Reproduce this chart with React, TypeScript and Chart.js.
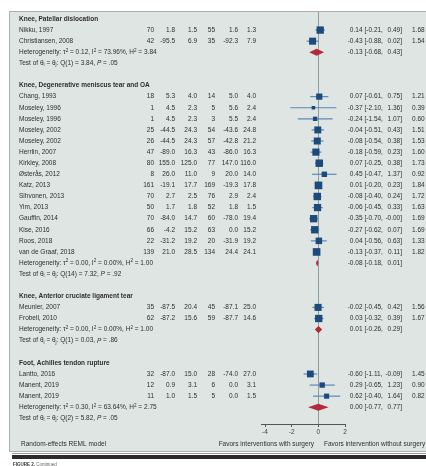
import React, { useEffect, useRef } from "react";
import { Chart, registerables } from "chart.js";

Chart.register(...registerables);

// ---------------- DATA ----------------
const groupTitles = [
  "Knee, Patellar dislocation",
  "Knee, Degenerative meniscus tear and OA",
  "Knee, Anterior cruciate ligament tear",
  "Foot, Achilles tendon rupture",
];

const studyGroup = [0, 0, 1, 1, 1, 1, 1, 1, 1, 1, 1, 1, 1, 1, 1, 1, 1, 2, 2, 3, 3, 3];

const studyNames = [
  "Nikku, 1997",
  "Christiansen, 2008",
  "Chang, 1993",
  "Moseley, 1996",
  "Moseley, 1996",
  "Moseley, 2002",
  "Moseley, 2002",
  "Herrlin, 2007",
  "Kirkley, 2008",
  "Østerås, 2012",
  "Katz, 2013",
  "Sihvonen, 2013",
  "Yim, 2013",
  "Gauffin, 2014",
  "Kise, 2016",
  "Roos, 2018",
  "van de Graaf, 2018",
  "Meunier, 2007",
  "Frobell, 2010",
  "Lantto, 2016",
  "Manent, 2019",
  "Manent, 2019",
];

const nSurgery = [70, 42, 18, 1, 1, 25, 26, 47, 80, 8, 161, 70, 50, 70, 66, 22, 139, 35, 62, 32, 12, 11];
const meanSurgery = [1.8, -95.5, 5.3, 4.5, 4.5, -44.5, -44.5, -89.0, 155.0, 26.0, -19.1, 2.7, 1.7, -84.0, -4.2, -31.2, 21.0, -87.5, -87.2, -87.0, 0.9, 1.0];
const sdSurgery = [1.5, 6.9, 4.0, 2.3, 2.3, 24.3, 24.3, 16.3, 125.0, 11.0, 17.7, 2.5, 1.8, 14.7, 15.2, 19.2, 28.5, 20.4, 15.6, 15.0, 3.1, 1.5];
const nControl = [55, 35, 14, 5, 3, 54, 57, 43, 77, 9, 169, 76, 52, 60, 63, 20, 134, 45, 59, 28, 6, 5];
const meanControl = [1.6, -92.3, 5.0, 5.6, 5.5, -43.6, -42.8, -86.0, 147.0, 20.0, -19.3, 2.9, 1.8, -78.0, 0.0, -31.9, 24.4, -87.1, -87.7, -74.0, 0.0, 0.0];
const sdControl = [1.3, 7.9, 4.0, 2.4, 2.4, 24.8, 21.2, 16.3, 116.0, 14.0, 17.8, 2.4, 1.5, 19.4, 15.2, 19.2, 24.1, 25.0, 14.6, 27.0, 3.1, 1.5];

const effect = [0.14, -0.43, 0.07, -0.37, -0.24, -0.04, -0.08, -0.18, 0.07, 0.45, 0.01, -0.08, -0.06, -0.35, -0.27, 0.04, -0.13, -0.02, 0.03, -0.6, 0.29, 0.62];
const ciLow = [-0.21, -0.88, -0.61, -2.1, -1.54, -0.51, -0.54, -0.59, -0.25, -0.47, -0.2, -0.4, -0.45, -0.7, -0.62, -0.56, -0.37, -0.45, -0.32, -1.11, -0.65, -0.4];
const ciHigh = [0.49, 0.02, 0.75, 1.36, 1.07, 0.43, 0.38, 0.23, 0.38, 1.37, 0.23, 0.24, 0.33, -0.004, 0.07, 0.63, 0.11, 0.42, 0.39, -0.09, 1.23, 1.64];
const weight = [1.68, 1.54, 1.21, 0.39, 0.6, 1.51, 1.53, 1.6, 1.73, 0.92, 1.84, 1.72, 1.63, 1.69, 1.69, 1.33, 1.82, 1.56, 1.67, 1.45, 0.9, 0.82];

const pooledEst = [-0.13, -0.08, 0.01, 0.0];
const pooledLow = [-0.68, -0.18, -0.26, -0.77];
const pooledHigh = [0.43, 0.01, 0.29, 0.77];

const hetTau2 = ["0.12", "0.00", "0.00", "0.30"];
const hetI2 = ["73.96", "0.00", "0.00", "63.64"];
const hetH2 = ["3.84", "1.00", "1.00", "2.75"];
const qDf = [1, 14, 1, 2];
const qStat = ["3.84", "7.32", "0.03", "5.82"];
const pValue = [".05", ".92", ".86", ".05"];

const xTicks = [-4, -2, 0, 2];
const footerLeft = "Random-effects REML model";
const favorsLeft = "Favors interventions with surgery";
const favorsRight = "Favors intervention without surgery";

// ---------------- ROW LAYOUT ----------------
const headerRow: number[] = [];
const hetRow: number[] = [];
const testRow: number[] = [];
const studyRow: number[] = [];
let rr = 0;
groupTitles.forEach((_, g) => {
  headerRow[g] = rr++;
  studyGroup.forEach((sg, i) => {
    if (sg === g) studyRow[i] = rr++;
  });
  hetRow[g] = rr++;
  testRow[g] = rr++;
  rr++;
});
const lastRow = testRow[testRow.length - 1];

// ---------------- STYLE ----------------
const FAM = '"Liberation Sans", Arial, Helvetica, sans-serif';
const FS = 6.5;
const TXT = "#2e2e2e";
const SQUARE = "#1c4a7c";
const CI = "#5a88b8";
const DIAMOND = "#b3283a";
const PANEL = "#dfe5e2";

function fnt(size: number, bold = false, italic = false) {
  return `${italic ? "italic " : ""}${bold ? "bold " : ""}${size}px ${FAM}`;
}

type Run = { t: string; sub?: boolean; sup?: boolean; it?: boolean };
function drawRuns(ctx: CanvasRenderingContext2D, x: number, y: number, runs: Run[]) {
  let cx = x;
  ctx.textAlign = "left";
  for (const r of runs) {
    const size = r.sub || r.sup ? 4.6 : FS;
    ctx.font = fnt(size, false, r.it);
    const dy = r.sub ? 1.8 : r.sup ? -2.0 : 0;
    ctx.fillText(r.t, cx, y + dy);
    cx += ctx.measureText(r.t).width;
  }
}

function drawText(ctx: CanvasRenderingContext2D, t: string, x: number, y: number, align: CanvasTextAlign, bold = false) {
  ctx.font = fnt(FS, bold);
  ctx.textAlign = align;
  ctx.fillText(t, x, y);
}

const colRight = [154, 175, 197, 215, 238, 256];
const EST_R = 362.5;
const LO_L = 364.5;
const HI_R = 402;
const W_L = 412;

function ciText(ctx: CanvasRenderingContext2D, y: number, est: number, lo: number, hi: number) {
  drawText(ctx, est.toFixed(2), EST_R, y, "right");
  drawText(ctx, "[" + lo.toFixed(2) + ",", LO_L, y, "left");
  drawText(ctx, hi.toFixed(2) + "]", HI_R, y, "right");
}

const panelPlugin = {
  id: "panel",
  beforeDraw(chart: any) {
    const ctx: CanvasRenderingContext2D = chart.ctx;
    ctx.save();
    ctx.fillStyle = "#ffffff";
    ctx.fillRect(0, 0, chart.width, chart.height);
    ctx.fillStyle = PANEL;
    ctx.fillRect(9, 11, chart.width - 9, 441);
    ctx.strokeStyle = "#a9b0ad";
    ctx.lineWidth = 1;
    ctx.beginPath();
    ctx.moveTo(chart.width, 11.5);
    ctx.lineTo(9.5, 11.5);
    ctx.lineTo(9.5, 451.5);
    ctx.lineTo(chart.width, 451.5);
    ctx.stroke();
    // bottom rule + caption
    ctx.fillStyle = "#2b2b2b";
    ctx.fillRect(12, 455, chart.width - 12, 4);
    ctx.fillStyle = "#9a9a9a";
    ctx.fillRect(12, 453, chart.width - 12, 1);
    ctx.restore();
  },
  beforeDatasetsDraw(chart: any) {
    const ctx: CanvasRenderingContext2D = chart.ctx;
    const x0 = Math.round(chart.scales.x.getPixelForValue(0)) + 0.5;
    ctx.save();
    ctx.strokeStyle = "#8d9c9e";
    ctx.lineWidth = 1;
    ctx.beginPath();
    ctx.moveTo(x0, 12);
    ctx.lineTo(x0, chart.chartArea.bottom);
    ctx.stroke();
    ctx.restore();
  },
  afterDatasetsDraw(chart: any) {
    const ctx: CanvasRenderingContext2D = chart.ctx;
    const xs = chart.scales.x;
    const ys = chart.scales.y;
    ctx.save();
    ctx.fillStyle = DIAMOND;
    pooledEst.forEach((e, g) => {
      const y = ys.getPixelForValue(hetRow[g]);
      const h = 3.6;
      ctx.beginPath();
      ctx.moveTo(xs.getPixelForValue(pooledLow[g]), y);
      ctx.lineTo(xs.getPixelForValue(e), y - h);
      ctx.lineTo(xs.getPixelForValue(pooledHigh[g]), y);
      ctx.lineTo(xs.getPixelForValue(e), y + h);
      ctx.closePath();
      ctx.fill();
    });
    ctx.restore();
  },
  afterDraw(chart: any) {
    const ctx: CanvasRenderingContext2D = chart.ctx;
    const ys = chart.scales.y;
    ctx.save();
    ctx.fillStyle = TXT;
    ctx.textBaseline = "middle";
    groupTitles.forEach((title, g) => {
      drawText(ctx, title, 19, ys.getPixelForValue(headerRow[g]), "left", true);
      const yh = ys.getPixelForValue(hetRow[g]);
      drawRuns(ctx, 19, yh, [
        { t: "Heterogeneity: τ" },
        { t: "2", sup: true },
        { t: ` = ${hetTau2[g]}, I` },
        { t: "2", sup: true },
        { t: ` = ${hetI2[g]}%, H` },
        { t: "2", sup: true },
        { t: ` = ${hetH2[g]}` },
      ]);
      ciText(ctx, yh, pooledEst[g], pooledLow[g], pooledHigh[g]);
      const yt = ys.getPixelForValue(testRow[g]);
      drawRuns(ctx, 19, yt, [
        { t: "Test of θ" },
        { t: "i", sub: true },
        { t: " = θ" },
        { t: "j", sub: true },
        { t: `: Q(${qDf[g]}) = ${qStat[g]}, ` },
        { t: "P", it: true },
        { t: ` = ${pValue[g]}` },
      ]);
    });
    studyNames.forEach((name, i) => {
      const y = ys.getPixelForValue(studyRow[i]);
      drawText(ctx, name, 19, y, "left");
      const cols = [
        String(nSurgery[i]),
        meanSurgery[i].toFixed(1),
        sdSurgery[i].toFixed(1),
        String(nControl[i]),
        meanControl[i].toFixed(1),
        sdControl[i].toFixed(1),
      ];
      cols.forEach((c, k) => drawText(ctx, c, colRight[k], y, "right"));
      ciText(ctx, y, effect[i], ciLow[i], ciHigh[i]);
      drawText(ctx, weight[i].toFixed(2), W_L, y, "left");
    });
    drawText(ctx, footerLeft, 21, 444, "left");
    drawText(ctx, favorsLeft, 314, 444, "right");
    drawText(ctx, favorsRight, 324, 444, "left");
    // caption
    ctx.fillStyle = "#333";
    ctx.textAlign = "left";
    ctx.font = fnt(4.5, true);
    ctx.fillText("FIGURE 2.", 13, 464.5);
    const w = ctx.measureText("FIGURE 2. ").width;
    ctx.font = fnt(4.5);
    ctx.fillStyle = "#666";
    ctx.fillText("Continued", 13 + w, 464.5);
    ctx.restore();
  },
};

export default function App() {
  const ref = useRef<HTMLCanvasElement>(null);
  useEffect(() => {
    if (!ref.current) return;
    const squares = {
      type: "scatter" as const,
      data: effect.map((e, i) => ({ x: e, y: studyRow[i] })),
      pointStyle: "rect",
      pointRadius: weight.map((w) => 4.0 * Math.sqrt(w)),
      pointBorderWidth: 0,
      pointBackgroundColor: SQUARE,
      showLine: false,
      order: 0,
    };
    const ciSets = effect.map((_, i) => ({
      type: "line" as const,
      data: [
        { x: ciLow[i], y: studyRow[i] },
        { x: ciHigh[i], y: studyRow[i] },
      ],
      borderColor: CI,
      borderWidth: 1.2,
      pointRadius: 0,
      fill: false,
      order: 1,
    }));
    const chart = new Chart(ref.current, {
      type: "scatter",
      data: { datasets: [squares as any, ...(ciSets as any[])] },
      options: {
        animation: false,
        responsive: false,
        devicePixelRatio: 1,
        events: [],
        layout: { padding: { left: 261, right: 81, top: 13, bottom: 22 } },
        plugins: { legend: { display: false }, tooltip: { enabled: false } },
        scales: {
          x: {
            type: "linear",
            min: -4.3,
            max: 2,
            afterBuildTicks: (s: any) => {
              s.ticks = xTicks.map((v) => ({ value: v }));
            },
            afterFit: (s: any) => {
              s.height = 20;
            },
            grid: { drawOnChartArea: false, drawTicks: true, tickLength: 3, color: "#555" },
            border: { display: true, color: "#555", width: 1 },
            ticks: { font: { family: FAM, size: 6.5 }, color: "#444", padding: 1, maxRotation: 0, autoSkip: false },
          },
          y: {
            type: "linear",
            display: false,
            reverse: true,
            min: -0.54,
            max: lastRow + 0.51,
          },
        },
      } as any,
      plugins: [panelPlugin],
    });
    return () => chart.destroy();
  }, []);
  return (
    <div style={{ position: "absolute", left: 0, top: 0, width: 426, height: 466, background: "#fff" }}>
      <canvas ref={ref} width={426} height={466} style={{ display: "block", width: 426, height: 466 }} />
    </div>
  );
}
